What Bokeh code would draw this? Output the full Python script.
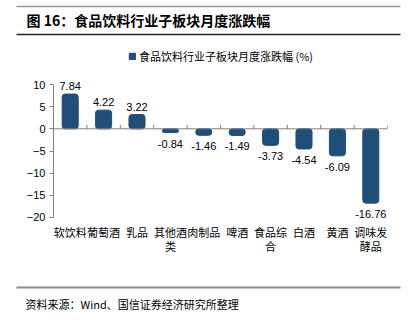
from bokeh.plotting import figure
from bokeh.layouts import column
from bokeh.models import (ColumnDataSource, Range1d, FixedTicker, Span, LabelSet,
                          Legend, LegendItem)
from bokeh.core.properties import value
from bokeh.transform import dodge
from bokeh.embed import file_html
from bokeh.resources import INLINE

categories = ["软饮料", "葡萄酒", "乳品", "其他酒类", "肉制品", "啤酒", "食品综合", "白酒", "黄酒", "调味发酵品"]
values = [7.84, 4.22, 3.22, -0.84, -1.46, -1.49, -3.73, -4.54, -6.09, -16.76]
label_line1 = ["软饮料", "葡萄酒", "乳品", "其他酒", "肉制品", "啤酒", "食品综", "白酒", "黄酒", "调味发"]
label_line2 = ["", "", "", "类", "", "", "合", "", "", "酵品"]
y_ticks = [-20, -15, -10, -5, 0, 5, 10]
series_name = "食品饮料行业子板块月度涨跌幅 (%)"
title_text = "图 16：食品饮料行业子板块月度涨跌幅"
source_text = "资料来源：Wind、国信证券经济研究所整理"

BAR = "#1f4e79"
CJK = "Noto Sans CJK SC"
LAT = "Liberation Sans"
W = 408


def bare(h):
    f = figure(width=W, height=h, x_range=Range1d(0, W), y_range=Range1d(h, 0),
               output_backend="svg", toolbar_location=None,
               x_axis_location=None, y_axis_location=None,
               min_border=0, min_border_left=0, min_border_right=0,
               min_border_top=0, min_border_bottom=0)
    f.frame_align = False
    f.outline_line_color = None
    f.grid.visible = False
    f.background_fill_color = "white"
    f.border_fill_color = "white"
    return f


# ---------- header ----------
head = bare(45)
head.segment(x0=[16], y0=[6], x1=[400], y1=[6], line_color="#9a9a9a", line_width=1.5)
head.segment(x0=[16], y0=[34], x1=[400], y1=[34], line_color="#222222", line_width=1.5)
head.text(x=[26], y=[19.5], text=[title_text], text_font=value(CJK), text_font_size="14px",
          text_font_style="bold", text_baseline="middle", text_color="black")

# ---------- main chart ----------
src = ColumnDataSource(dict(cat=categories, val=values,
                            l1=label_line1, l2=label_line2,
                            ybase=[-20] * len(categories)))
pos = ColumnDataSource(dict(cat=[c for c, v in zip(categories, values) if v >= 0],
                            val=[v for v in values if v >= 0],
                            txt=[f"{v:.2f}" for v in values if v >= 0]))
neg = ColumnDataSource(dict(cat=[c for c, v in zip(categories, values) if v < 0],
                            val=[v for v in values if v < 0],
                            txt=[f"{v:.2f}" for v in values if v < 0]))

MH = 240
p = figure(width=W, height=MH, x_range=categories, y_range=Range1d(-35.34, 18.80),
           output_backend="svg", toolbar_location=None, x_axis_location=None,
           min_border_left=53, min_border_right=21, min_border_top=0, min_border_bottom=0)
p.frame_align = False
p.outline_line_color = None
p.background_fill_color = "white"
p.border_fill_color = "white"
p.grid.visible = False

bars = p.vbar(x="cat", top="val", bottom=0, width=0.48, source=src, fill_color=BAR,
              line_color=BAR, border_radius=3)

p.add_layout(Span(location=0, dimension="width", line_color="#7f7f7f", line_width=1))
p.segment(x0=dodge("cat", 0.5, range=p.x_range), y0=0, x1=dodge("cat", 0.5, range=p.x_range),
          y1=0.9, source=src, line_color="#7f7f7f", line_width=1)

ya = p.yaxis[0]
ya.bounds = (-20, 10)
ya.ticker = FixedTicker(ticks=y_ticks)
ya.axis_line_color = "#7f7f7f"
ya.major_tick_line_color = "#7f7f7f"
ya.major_tick_out = 4
ya.major_tick_in = 0
ya.minor_tick_line_color = None
ya.major_label_text_font = LAT
ya.major_label_text_font_size = "11px"
ya.major_label_text_color = "black"
ya.major_label_standoff = 4

p.add_layout(LabelSet(x="cat", y="val", text="txt", source=pos, text_align="center",
                      text_baseline="bottom", y_offset=4, text_font=value(LAT),
                      text_font_size="11px", text_color="black"))
p.add_layout(LabelSet(x="cat", y="val", text="txt", source=neg, text_align="center",
                      text_baseline="top", y_offset=-7, text_font=value(LAT),
                      text_font_size="11px", text_color="black"))

p.add_layout(LabelSet(x="cat", y="ybase", text="l1", source=src, text_align="center",
                      text_baseline="middle", y_offset=-15, text_font=value(CJK),
                      text_font_size="11px", text_color="black"))
p.add_layout(LabelSet(x="cat", y="ybase", text="l2", source=src, text_align="center",
                      text_baseline="middle", y_offset=-29, text_font=value(CJK),
                      text_font_size="11px", text_color="black"))

leg = Legend(items=[LegendItem(label=series_name, renderers=[bars])],
             location=(75, 221), glyph_width=8, glyph_height=8, label_standoff=3,
             label_text_font=CJK, label_text_font_size="11px", label_text_color="black",
             padding=0, margin=0, border_line_color=None, background_fill_alpha=0,
             label_height=12)
p.add_layout(leg)

# ---------- footer ----------
foot = bare(51)
foot.segment(x0=[16], y0=[2], x1=[400], y1=[2], line_color="#8a8a8a", line_width=2)
foot.text(x=[25], y=[18], text=[source_text], text_font=value(CJK), text_font_size="11px",
          text_baseline="middle", text_color="black")

layout = column(head, p, foot, spacing=0)
open("out.html", "w").write(file_html(layout, INLINE))
